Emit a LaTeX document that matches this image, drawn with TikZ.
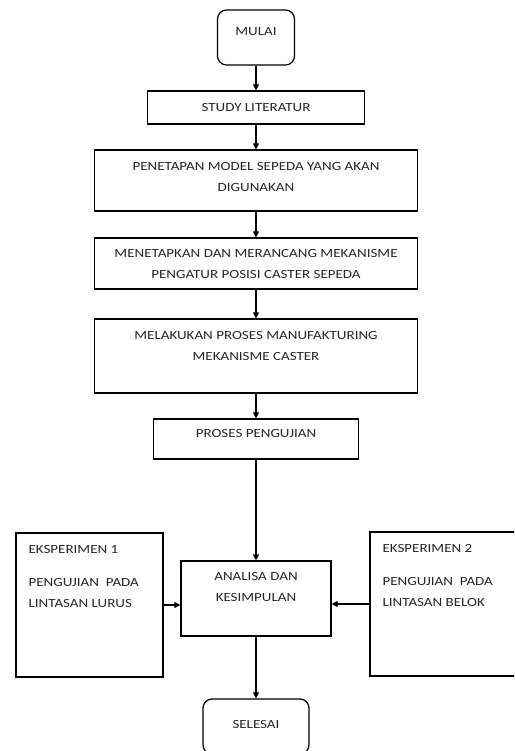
\documentclass[tikz,border=0pt]{standalone}
\usepackage{fontspec}
\setmainfont{Carlito}[FakeStretch=1.2]
\usetikzlibrary{arrows.meta}

\begin{document}
\begin{tikzpicture}[x=1pt, y=-1pt, line width=1.2pt,
		kotak/.style={draw, inner sep=0pt},
		ujung/.style={kotak, rounded corners=9pt},
		teks/.style={inner sep=0pt, align=center, text=black!85, font=\fontsize{12.5}{21}\selectfont},
		panah/.style={-{Triangle[length=6pt,width=6pt]}}]
		\clip (0,0) rectangle (514,751);
		
		%kotak alur utama
		\node (mulai) at (256, 37.5) [ujung, minimum width=77pt, minimum height=55pt]{};
		\node (studi) at (256, 107.5) [kotak, minimum width=217pt, minimum height=33pt]{};
		\node (model) at (256, 180.5) [kotak, minimum width=323pt, minimum height=61pt]{};
		\node (rancang) at (256, 263.5) [kotak, minimum width=323pt, minimum height=51pt]{};
		\node (manuf) at (256, 356) [kotak, minimum width=323pt, minimum height=74pt]{};
		\node (uji) at (256, 439) [kotak, minimum width=205pt, minimum height=40pt]{};
		\node (analisa) at (256, 598.5) [kotak, minimum width=150pt, minimum height=75pt]{};
		\node (selesai) at (256, 726.5) [ujung, minimum width=106pt, minimum height=55pt]{};
		
		%eksperimen
		\node (eks1) at (89.5, 605) [kotak, minimum width=147pt, minimum height=144pt]{};
		\node (eks2) at (443.5, 604) [kotak, minimum width=147pt, minimum height=144pt]{};
		
		%teks
		\node (t-mulai) at (256, 32) [teks]{MULAI};
		\node (t-studi) at (256, 107) [teks]{STUDY LITERATUR};
		\node (t-model) at (256, 176.5) [teks]{PENETAPAN MODEL SEPEDA YANG AKAN\\DIGUNAKAN};
		\node (t-rancang) at (256, 263.5) [teks]{MENETAPKAN DAN MERANCANG MEKANISME\\PENGATUR POSISI CASTER SEPEDA};
		\node (t-manuf) at (256, 346) [teks]{MELAKUKAN PROSES MANUFAKTURING\\MEKANISME CASTER};
		\node (t-uji) at (256, 433) [teks]{PROSES PENGUJIAN};
		\node (t-analisa) at (256, 586.5) [teks]{ANALISA DAN\\KESIMPULAN};
		\node (t-selesai) at (256, 724) [teks]{SELESAI};
		\node (t-eks1) at (28, 576.5) [teks, align=left, anchor=west]{EKSPERIMEN 1\\[12pt]PENGUJIAN\ \ PADA\\LINTASAN LURUS};
		\node (t-eks2) at (382, 575.5) [teks, align=left, anchor=west]{EKSPERIMEN 2\\[12pt]PENGUJIAN\ \ PADA\\LINTASAN BELOK};
		
		%panah
		\foreach \a/\b in {mulai/studi, studi/model, model/rancang, rancang/manuf, manuf/uji, uji/analisa, analisa/selesai}{
			\draw[panah] (\a) -- (\b);
		}
		\draw[panah] (eks1.east) -- (eks1.east -| analisa.west);
		\draw[panah] (eks2.west) -- (eks2.west -| analisa.east);
\end{tikzpicture}
\end{document}
